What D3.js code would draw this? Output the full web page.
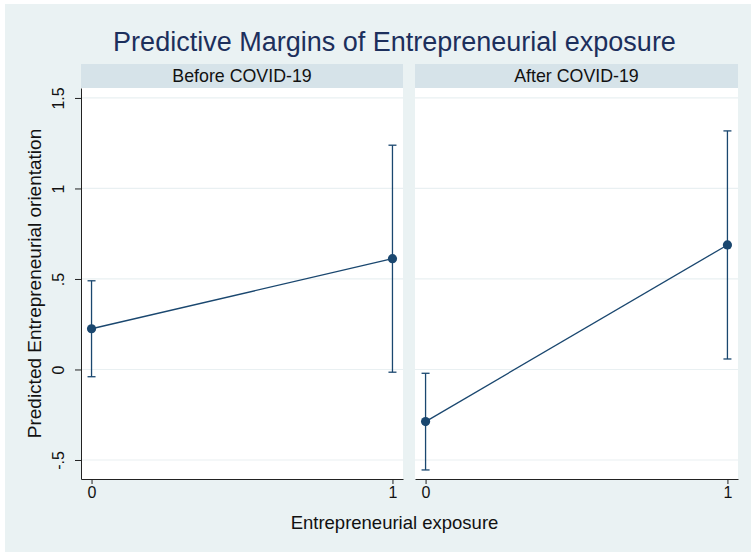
<!DOCTYPE html>
<html>
<head>
<meta charset="utf-8">
<script src="https://cdn.jsdelivr.net/npm/d3@7"></script>
<style>
  html, body { margin: 0; padding: 0; background: #ffffff; }
  svg { display: block; font-family: "Liberation Sans", Arial, Helvetica, sans-serif; }
</style>
</head>
<body>
<svg id="chart" width="751" height="552"></svg>
<script>
// Predictive margins by period
const panels = ["Before COVID-19", "After COVID-19"];
const exposure = [0, 1];
const margins = [[0.225, 0.612], [-0.288, 0.688]];
const ciLow = [[-0.040, -0.015], [-0.555, 0.058]];
const ciHigh = [[0.490, 1.239], [-0.021, 1.318]];
const yTicks = [-0.5, 0, 0.5, 1, 1.5];
const yTickLabels = ["-.5", "0", ".5", "1", "1.5"];
const xTickLabels = ["0", "1"];

const navy = "#1a476f";
const svg = d3.select("#chart");

// graph region
svg.append("rect").attr("x", 5).attr("y", 4).attr("width", 746).attr("height", 548)
  .attr("fill", "#eaf2f3");

svg.append("text").attr("x", 394.5).attr("y", 51).attr("text-anchor", "middle")
  .attr("font-size", 27).attr("fill", "#1c2f5c")
  .text("Predictive Margins of Entrepreneurial exposure");

const panelX = [[81, 403], [415, 738]];
const stripTop = 64, plotTop = 88, plotBottom = 479;

const y = d3.scaleLinear().domain([-0.605, 1.555]).range([plotBottom, plotTop]);

panels.forEach((name, p) => {
  const [x0, x1] = panelX[p];
  const x = d3.scaleLinear().domain([-0.035, 1.035]).range([x0, x1]);
  const g = svg.append("g");

  // strip
  g.append("rect").attr("x", x0).attr("y", stripTop).attr("width", x1 - x0)
    .attr("height", plotTop - stripTop).attr("fill", "#d6e3e9");
  g.append("text").attr("x", (x0 + x1) / 2).attr("y", 82).attr("text-anchor", "middle")
    .attr("font-size", 17.8).attr("fill", "#111").text(name);

  // plot region
  g.append("rect").attr("x", x0).attr("y", plotTop).attr("width", x1 - x0)
    .attr("height", plotBottom - plotTop).attr("fill", "#ffffff");

  // grid
  g.selectAll("line.grid").data(yTicks).join("line").attr("class", "grid")
    .attr("x1", x0).attr("x2", x1)
    .attr("y1", d => y(d)).attr("y2", d => y(d))
    .attr("stroke", "#e9f0f2").attr("stroke-width", 1.2);

  // x axis
  const xAxis = g.append("g").attr("transform", `translate(0,${plotBottom})`)
    .call(d3.axisBottom(x).tickValues(exposure).tickFormat((d, i) => xTickLabels[i])
      .tickSize(5).tickPadding(3).tickSizeOuter(0));
  xAxis.select(".domain").attr("stroke", "#222");
  xAxis.selectAll(".tick line").attr("stroke", "#222");
  xAxis.selectAll(".tick text").attr("font-size", 16).attr("fill", "#111")
    .attr("font-family", "Liberation Sans, Arial, sans-serif");

  // y axis on first panel only
  if (p === 0) {
    const yAxis = g.append("g").attr("transform", `translate(${x0},0)`)
      .call(d3.axisLeft(y).tickValues(yTicks).tickFormat((d, i) => yTickLabels[i])
        .tickSize(6).tickSizeOuter(0));
    yAxis.select(".domain").attr("stroke", "#222");
    yAxis.selectAll(".tick line").attr("stroke", "#222");
    yAxis.selectAll(".tick text").attr("font-size", 16).attr("fill", "#111")
      .attr("font-family", "Liberation Sans, Arial, sans-serif")
      .attr("transform", "rotate(-90)")
      .attr("x", 0).attr("y", -23).attr("dy", "0.35em")
      .attr("text-anchor", "middle");
  }

  // confidence intervals
  const ci = exposure.map((e, i) => ({ e, lo: ciLow[p][i], hi: ciHigh[p][i] }));
  g.selectAll("line.ci").data(ci).join("line").attr("class", "ci")
    .attr("x1", d => x(d.e)).attr("x2", d => x(d.e))
    .attr("y1", d => y(d.lo)).attr("y2", d => y(d.hi))
    .attr("stroke", navy).attr("stroke-width", 1.3);
  ["lo", "hi"].forEach(k => {
    g.selectAll(`line.cap-${k}`).data(ci).join("line").attr("class", `cap-${k}`)
      .attr("x1", d => x(d.e) - 4).attr("x2", d => x(d.e) + 4)
      .attr("y1", d => y(d[k])).attr("y2", d => y(d[k]))
      .attr("stroke", navy).attr("stroke-width", 1.3);
  });

  // connecting line and markers
  const pts = exposure.map((e, i) => ({ e, v: margins[p][i] }));
  g.append("path").datum(pts)
    .attr("d", d3.line().x(d => x(d.e)).y(d => y(d.v)))
    .attr("fill", "none").attr("stroke", navy).attr("stroke-width", 1.3);
  g.selectAll("circle").data(pts).join("circle")
    .attr("cx", d => x(d.e)).attr("cy", d => y(d.v)).attr("r", 4.6)
    .attr("fill", navy);
});

// axis titles
svg.append("text").attr("x", 394.5).attr("y", 529).attr("text-anchor", "middle")
  .attr("font-size", 18.5).attr("fill", "#111").text("Entrepreneurial exposure");
svg.append("text").attr("transform", `translate(41,${(plotTop + plotBottom) / 2}) rotate(-90)`)
  .attr("text-anchor", "middle").attr("font-size", 19).attr("fill", "#111")
  .text("Predicted Entrepreneurial orientation");
</script>
</body>
</html>
